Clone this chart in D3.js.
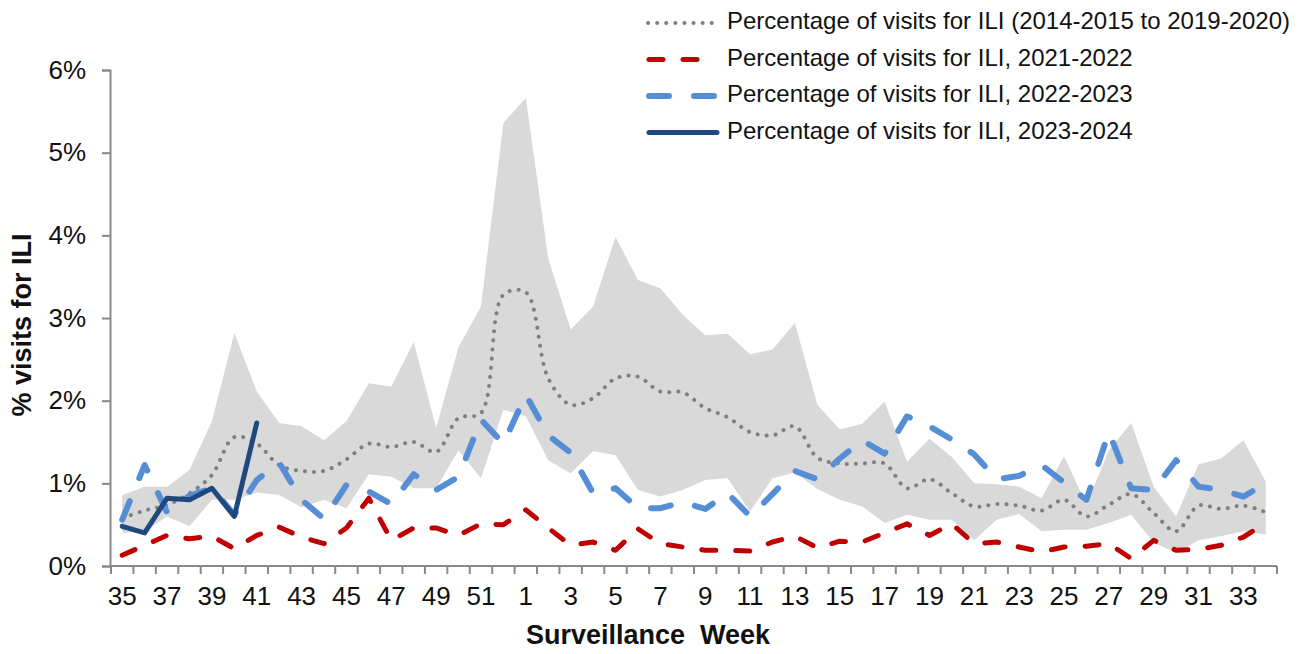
<!DOCTYPE html>
<html lang="en">
<head>
    <meta charset="UTF-8">
    <title>ILI visits by surveillance week</title>
    <script src="https://d3js.org/d3.v7.min.js"></script>
    <style>
        body { margin: 0; background: #fff; }
        svg { font-family: "Liberation Sans", Arial, sans-serif; }
        .axis path, .axis line { stroke: #898989; stroke-width: 2px; }
        .axis text { font-size: 26px; fill: #111; }
        .title { font-size: 27px; font-weight: bold; fill: #111; }
        .legend text { font-size: 24px; fill: #111; }
    </style>
</head>
<body>
<svg></svg>
<script>
    // surveillance weeks, season starts at week 35
    var weeks = [35, 36, 37, 38, 39, 40, 41, 42, 43, 44, 45, 46, 47, 48, 49, 50, 51, 52,
        1, 2, 3, 4, 5, 6, 7, 8, 9, 10, 11, 12, 13, 14, 15, 16, 17, 18, 19, 20, 21, 22, 23, 24,
        25, 26, 27, 28, 29, 30, 31, 32, 33, 34];
    var yTicks = [0, 1, 2, 3, 4, 5, 6];

    // 2014-2015 to 2019-2020: mean, min and max
    var meanPct = [0.58, 0.67, 0.74, 0.88, 1.10, 1.56, 1.48, 1.22, 1.15, 1.15, 1.29, 1.48, 1.44, 1.50, 1.38, 1.79, 1.85, 3.28,
        3.31, 2.27, 1.95, 2.03, 2.27, 2.29, 2.11, 2.10, 1.91, 1.80, 1.62, 1.58, 1.69, 1.31, 1.24, 1.24, 1.24, 0.94, 1.05, 0.88,
        0.72, 0.75, 0.73, 0.67, 0.80, 0.60, 0.74, 0.87, 0.64, 0.42, 0.73, 0.69, 0.73, 0.65];
    var minPct = [0.40, 0.42, 0.60, 0.48, 0.80, 0.80, 0.89, 0.86, 0.71, 0.80, 0.70, 1.11, 1.08, 0.94, 0.94, 1.40, 1.06, 1.89,
        1.81, 1.28, 1.12, 1.39, 1.34, 0.92, 0.84, 0.92, 1.04, 1.06, 0.66, 1.06, 1.13, 0.93, 0.80, 0.72, 0.52, 0.62, 0.56, 0.56,
        0.31, 0.56, 0.63, 0.42, 0.44, 0.44, 0.52, 0.62, 0.28, 0.16, 0.31, 0.36, 0.42, 0.38];
    var maxPct = [0.86, 0.96, 0.96, 1.16, 1.75, 2.82, 2.11, 1.73, 1.69, 1.52, 1.75, 2.21, 2.17, 2.71, 1.67, 2.65, 3.14, 5.36,
        5.66, 3.72, 2.86, 3.14, 3.98, 3.46, 3.36, 3.04, 2.79, 2.81, 2.56, 2.62, 2.94, 1.95, 1.65, 1.72, 1.99, 1.26, 1.54, 1.32,
        1.00, 0.99, 0.96, 0.82, 1.33, 0.74, 1.40, 1.73, 0.96, 0.60, 1.23, 1.30, 1.52, 1.02];

    var pct2122 = [0.13, 0.25, 0.37, 0.33, 0.36, 0.21, 0.37, 0.47, 0.35, 0.27, 0.46, 0.82, 0.31, 0.46, 0.46, 0.37, 0.51, 0.50,
        0.68, 0.46, 0.25, 0.29, 0.19, 0.45, 0.27, 0.23, 0.19, 0.19, 0.18, 0.29, 0.36, 0.22, 0.30, 0.29, 0.40, 0.51, 0.37, 0.51,
        0.27, 0.29, 0.23, 0.17, 0.23, 0.24, 0.27, 0.09, 0.31, 0.19, 0.20, 0.25, 0.35, 0.52];
    var pct2223 = [0.56, 1.22, 0.65, 0.85, 0.94, 0.62, 1.04, 1.25, 0.80, 0.57, 0.98, 0.90, 0.75, 1.11, 0.92, 1.08, 1.77, 1.48,
        2.07, 1.58, 1.37, 0.88, 0.94, 0.70, 0.70, 0.77, 0.69, 0.88, 0.60, 0.87, 1.15, 1.05, 1.30, 1.52, 1.36, 1.81, 1.69, 1.53,
        1.35, 1.05, 1.09, 1.22, 1.01, 0.80, 1.62, 0.94, 0.92, 1.28, 0.96, 0.92, 0.84, 1.00];
    var pct2324 = [0.48, 0.40, 0.82, 0.80, 0.94, 0.60, 1.73];

    var legendLabels = [
        "Percentage of visits for ILI (2014-2015 to 2019-2020)",
        "Percentage of visits for ILI, 2021-2022",
        "Percentage of visits for ILI, 2022-2023",
        "Percentage of visits for ILI, 2023-2024"
    ];

    var width = 1305, height = 654;
    var svg = d3.select("svg").attr("width", width).attr("height", height);

    var x = d3.scaleBand().domain(weeks).range([111, 1277]);
    var y = d3.scaleLinear().domain([0, 6]).range([566, 70]);
    var cx = function (w) { return x(w) + x.bandwidth() / 2; };

    // line styles for each series
    var styles = [
        { color: "#808080", width: 4, dash: "0.1 9", curve: d3.curveCatmullRom },
        { color: "#c00000", width: 5, dash: "14 20", curve: d3.curveLinear },
        { color: "#558ed5", width: 6, dash: "20 25", curve: d3.curveLinear },
        { color: "#1f497d", width: 5, dash: null, curve: d3.curveLinear }
    ];
    var series = [meanPct, pct2122, pct2223, pct2324];

    // min-max band
    var band = weeks.map(function (w, i) { return { w: w, lo: minPct[i], hi: maxPct[i] }; });
    svg.append("path")
        .datum(band)
        .attr("fill", "#d9d9d9")
        .attr("d", d3.area()
            .x(function (d) { return cx(d.w); })
            .y0(function (d) { return y(d.lo); })
            .y1(function (d) { return y(d.hi); }));

    // axes
    var yAxis = d3.axisLeft(y).tickValues(yTicks).tickSize(8).tickPadding(16)
        .tickFormat(function (d) { return d + "%"; });
    svg.append("g").classed("axis", true)
        .attr("transform", "translate(110,0)")
        .call(yAxis);

    // excel style: tick marks between categories, labels on odd weeks
    var xAxis = d3.axisBottom(x).tickSize(0).tickPadding(21)
        .tickFormat(function (d) { return d % 2 === 1 ? d : ""; });
    var gx = svg.append("g").classed("axis", true)
        .attr("transform", "translate(0,566)")
        .call(xAxis);
    gx.select(".domain").attr("d", "M" + x.range()[0] + ",0H" + x.range()[1]);
    gx.selectAll(".between")
        .data(weeks.concat(["end"]))
        .enter().append("line")
        .classed("between", true)
        .attr("x1", function (d) { return d === "end" ? x.range()[1] : x(d); })
        .attr("x2", function (d) { return d === "end" ? x.range()[1] : x(d); })
        .attr("y1", 0).attr("y2", 8);

    // series lines
    series.forEach(function (vals, k) {
        var s = styles[k];
        var pts = vals.map(function (v, i) { return [cx(weeks[i]), y(v)]; });
        svg.append("path")
            .datum(pts)
            .attr("fill", "none")
            .attr("stroke", s.color)
            .attr("stroke-width", s.width)
            .attr("stroke-linecap", "round")
            .attr("stroke-linejoin", "round")
            .attr("stroke-dasharray", s.dash)
            .attr("d", d3.line().curve(s.curve));
    });

    // axis titles
    svg.append("text").classed("title", true)
        .attr("transform", "translate(24,325) rotate(-90)")
        .attr("text-anchor", "middle")
        .attr("dominant-baseline", "middle")
        .text("% visits for ILI");
    svg.append("text").classed("title", true)
        .attr("x", 648).attr("y", 637)
        .attr("text-anchor", "middle")
        .attr("dominant-baseline", "middle")
        .attr("xml:space", "preserve")
        .text("Surveillance  Week");

    // legend
    var legend = svg.append("g").classed("legend", true);
    var rows = legend.selectAll("g")
        .data(legendLabels)
        .enter().append("g")
        .attr("transform", function (d, i) { return "translate(0," + (23 + i * 36.5) + ")"; });
    rows.append("line")
        .attr("x1", function (d, i) { return i === 0 ? 648 : 649; })
        .attr("x2", 717)
        .attr("stroke", function (d, i) { return styles[i].color; })
        .attr("stroke-width", function (d, i) { return styles[i].width; })
        .attr("stroke-linecap", "round")
        .attr("stroke-dasharray", function (d, i) { return styles[i].dash; });
    rows.append("text")
        .attr("x", 727)
        .attr("dominant-baseline", "middle")
        .text(function (d) { return d; });
</script>
</body>
</html>
